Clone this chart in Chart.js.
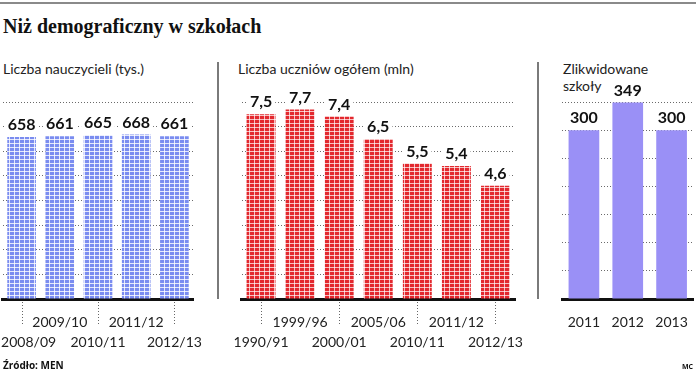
<!DOCTYPE html>
<html lang="pl">
<head>
<meta charset="utf-8">
<title>Niż demograficzny w szkołach</title>
<script src="https://cdn.jsdelivr.net/npm/chart.js@4.4.1/dist/chart.umd.min.js"></script>
<style>
  body { margin: 0; background: #fff; font-family: Lato, sans-serif; color: #111; }
  #pagina { position: relative; width: 696px; height: 372px; overflow: hidden; }
  .linha-topo { position: absolute; left: 0; top: 2px; width: 696px; height: 2px; background: #8a8a8a; }
  h1 { position: absolute; left: 3px; top: 15px; margin: 0; font: bold 20px "Liberation Serif", serif; color: #111; }
  .subtitulo { position: absolute; top: 60px; font-size: 14px; line-height: 17px; color: #222; }
  .separador { position: absolute; top: 62px; width: 2px; height: 237px; background: #7a7a7a; }
  canvas { position: absolute; top: 80px; }
  .fonte { position: absolute; left: 3px; top: 358px; font: bold 10px "Open Sans", sans-serif; }
  .mc { position: absolute; left: 682px; top: 362px; font: bold 7px "Open Sans", sans-serif; }
</style>
</head>
<body>
<div id="pagina">
  <div class="linha-topo"></div>
  <h1>Niż demograficzny w szkołach</h1>
  <div class="subtitulo" style="left:3px">Liczba nauczycieli (tys.)</div>
  <div class="subtitulo" style="left:238px">Liczba uczniów ogółem (mln)</div>
  <div class="subtitulo" style="left:563px">Zlikwidowane<br>szkoły</div>
  <div class="separador" style="left:217px"></div>
  <div class="separador" style="left:537px"></div>
  <canvas id="grafNauczyciele" width="205" height="280" style="left:0px"></canvas>
  <canvas id="grafUczniowie" width="296" height="280" style="left:230px"></canvas>
  <canvas id="grafSzkoly" width="146" height="280" style="left:550px"></canvas>
  <div class="fonte">Źródło: MEN</div>
  <div class="mc">MC</div>
</div>
<script>
// Dados dos gráficos
const latasNauczyciele = ['2008/09', '2009/10', '2010/11', '2011/12', '2012/13'];
const nauczyciele = [658, 661, 665, 668, 661];

const latasUczniowie = ['1990/91', '1999/96', '2000/01', '2005/06', '2010/11', '2011/12', '2012/13'];
const uczniowie = [7.5, 7.7, 7.4, 6.5, 5.5, 5.4, 4.6];

const latasSzkoly = ['2011', '2012', '2013'];
const szkoly = [300, 349, 300];

// Padrão quadriculado das barras
function criarPadrao(corBase, corLinha) {
    const tile = document.createElement('canvas');
    tile.width = 5;
    tile.height = 4;
    const t = tile.getContext('2d');
    t.fillStyle = corBase;
    t.fillRect(0, 0, 5, 4);
    t.fillStyle = corLinha;
    t.fillRect(4, 0, 1, 4);
    t.fillRect(0, 3, 5, 1);
    return t.createPattern(tile, 'repeat');
}

// Rótulos com os valores acima das barras
const rotulosValores = {
    id: 'rotulosValores',
    afterDatasetsDraw(chart, args, opts) {
        const ctx = chart.ctx;
        const meta = chart.getDatasetMeta(0);
        const dados = chart.data.datasets[0].data;
        ctx.save();
        ctx.font = 'bold 16px Lato, sans-serif';
        ctx.textAlign = 'center';
        ctx.textBaseline = 'middle';
        meta.data.forEach((barra, i) => {
            let texto = String(dados[i]);
            if (opts.decimal) texto = dados[i].toFixed(1).replace('.', ',');
            const w = ctx.measureText(texto).width + 6;
            const y = barra.y - 12;
            ctx.fillStyle = '#fff';
            ctx.fillRect(barra.x - w / 2, y - 8, w, 16);
            ctx.fillStyle = '#111';
            ctx.fillText(texto, barra.x, y);
        });
        ctx.restore();
    }
};

// Linhas pontilhadas debaixo do eixo (rótulos de baixo)
const marcasEixo = {
    id: 'marcasEixo',
    afterDraw(chart, args, opts) {
        if (!opts.ativo) return;
        const eixo = chart.scales.x;
        const ctx = chart.ctx;
        ctx.save();
        ctx.strokeStyle = '#666';
        ctx.lineWidth = 1;
        ctx.setLineDash([1, 2]);
        eixo.ticks.forEach((t, i) => {
            if (i % 2 !== 0) return;
            const x = Math.round(eixo.getPixelForTick(i)) + 0.5;
            ctx.beginPath();
            ctx.moveTo(x, eixo.top + 3);
            ctx.lineTo(x, eixo.top + opts.comprimento);
            ctx.stroke();
        });
        ctx.restore();
    }
};

function montarGrafico(id, labels, valores, cor, cfg) {
    const ctx = document.getElementById(id).getContext('2d');
    return new Chart(ctx, {
        type: 'bar',
        data: {
            labels: labels,
            datasets: [{
                data: valores,
                backgroundColor: cor,
                borderWidth: 0,
                categoryPercentage: 1,
                barPercentage: cfg.largura
            }]
        },
        plugins: [rotulosValores, marcasEixo],
        options: {
            responsive: false,
            animation: false,
            devicePixelRatio: 1,
            layout: { padding: { left: cfg.esq, right: cfg.dir, top: 22, bottom: 0 } },
            plugins: {
                legend: { display: false },
                tooltip: { enabled: false },
                rotulosValores: { decimal: cfg.decimal },
                marcasEixo: { ativo: cfg.escalonado, comprimento: 27 }
            },
            scales: {
                x: {
                    grid: { display: false },
                    border: { display: true, color: '#111', width: 3 },
                    ticks: {
                        autoSkip: false,
                        maxRotation: 0,
                        padding: 5,
                        color: '#222',
                        font: { family: 'Lato', size: 14, lineHeight: 1.43 },
                        callback: function (v, i) {
                            let r = this.getLabelForValue(v);
                            if (!cfg.escalonado) return [r];
                            if (cfg.primeiroDeslocado && i === 0) r = '\u2002\u2002' + r;
                            return i % 2 === 0 ? ['', r] : [r, ''];
                        }
                    },
                    afterFit: function (s) {
                        s.height = 61;
                        s.paddingLeft = 0;
                        s.paddingRight = 0;
                    }
                },
                y: {
                    min: 0,
                    max: cfg.max,
                    ticks: { display: false, stepSize: cfg.passo },
                    grid: { color: '#6a6a6a', lineWidth: 1, drawTicks: false },
                    border: { display: false, dash: [1, 2] },
                    afterFit: function (s) { s.width = 0; }
                }
            }
        }
    });
}

const azul = criarPadrao('#7a8cf0', 'rgba(255,255,255,0.8)');
const vermelho = criarPadrao('#e3282e', 'rgba(255,255,255,0.7)');

montarGrafico('grafNauczyciele', latasNauczyciele, nauczyciele, azul,
    { max: 800, passo: 100, esq: 2.5, dir: 11.5, largura: 0.75, decimal: false, escalonado: true, primeiroDeslocado: true });

montarGrafico('grafUczniowie', latasUczniowie, uczniowie, vermelho,
    { max: 8, passo: 1, esq: 11.5, dir: 11, largura: 0.74, decimal: true, escalonado: true, primeiroDeslocado: false });

montarGrafico('grafSzkoly', latasSzkoly, szkoly, '#9a90f6',
    { max: 350, passo: 50, esq: 12, dir: 2.5, largura: 0.7, decimal: false, escalonado: false, primeiroDeslocado: false });
</script>
</body>
</html>
